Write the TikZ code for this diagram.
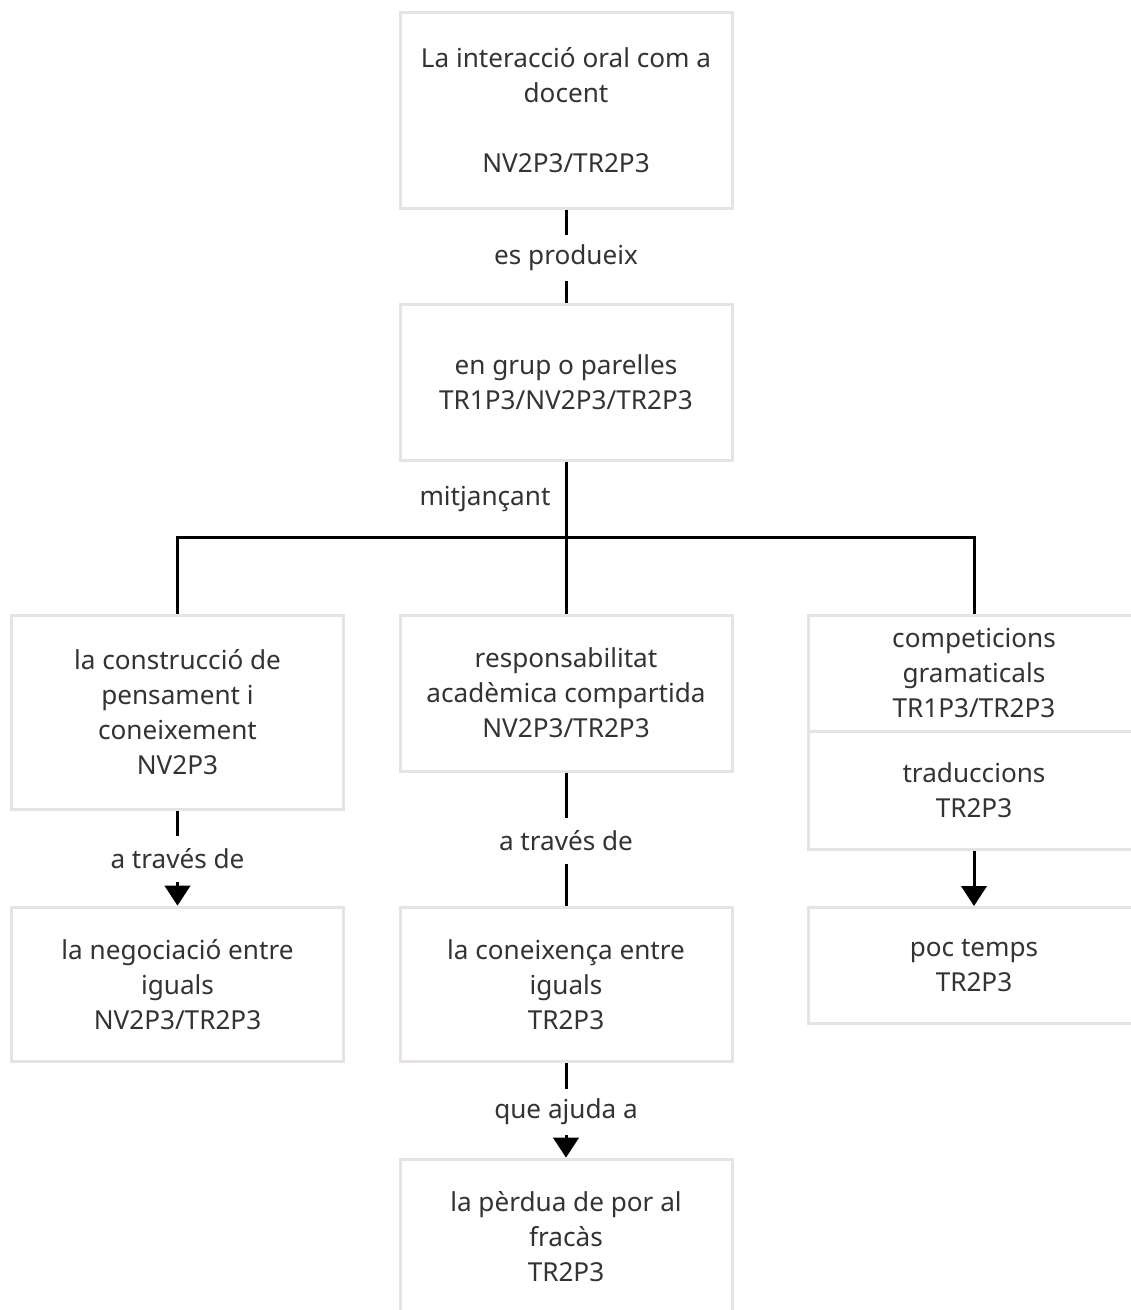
\documentclass[tikz,border=0pt]{standalone}
\usepackage{fontspec}
\setmainfont{Noto Sans}
\usetikzlibrary{arrows.meta,positioning}
\definecolor{boxline}{HTML}{E6E2E6}
\definecolor{ink}{HTML}{333333}
\tikzset{
  textfont/.style={font=\fontsize{19.6pt}{26.25pt}\selectfont},
  concept/.style={draw=boxline, line width=2.25pt, fill=white, align=center,
    text=ink, minimum width=249pt, inner sep=0pt, textfont},
  linkword/.style={fill=white, text=ink, inner sep=0pt, minimum height=34pt,
    textfont},
  link/.style={draw=black, line width=2.25pt},
  linkarrow/.style={link, -{Triangle[width=19pt,length=15pt]}},
}
\begin{document}
\begin{tikzpicture}[x=0.75pt, y=-0.75pt]
\useasboundingbox (0,0) rectangle (1131,1310);
\clip (0,0) rectangle (1131,1310);

% concept boxes
\node[concept, minimum height=147pt] (top) at (566,110)
  {La interacció oral com a\\docent\\[26.25pt]NV2P3/TR2P3};
\node[concept, minimum height=117pt] (grup) at (566,382)
  {en grup o parelles\\TR1P3/NV2P3/TR2P3};
\node[concept, minimum height=146pt] (cons) at (177.5,712.5)
  {la construcció de\\pensament i\\coneixement\\NV2P3};
\node[concept, minimum height=117pt] (resp) at (566,693)
  {responsabilitat\\acadèmica compartida\\NV2P3/TR2P3};
\node[concept, minimum height=87pt] (comp) at (974,673)
  {competicions\\gramaticals\\TR1P3/TR2P3};
\node[concept, minimum height=88.5pt] (trad) at (974,790)
  {traduccions\\TR2P3};
\node[concept, minimum height=87pt] (poc) at (974,965.5)
  {poc temps\\TR2P3};
\node[concept, minimum height=116pt] (nego) at (177.5,984.5)
  {la negociació entre\\iguals\\NV2P3/TR2P3};
\node[concept, minimum height=116pt] (conei) at (566,984.5)
  {la coneixença entre\\iguals\\TR2P3};
\node[concept, minimum height=116pt] (perd) at (566,1236.5)
  {la pèrdua de por al\\fracàs\\TR2P3};

% connectors with linking words
\draw[link] (top.south) -- (grup.north);
\node[linkword] at (566,258) {es produeix};

\coordinate (fork) at (566,537);
\draw[link] (grup.south) -- (resp.north);
\draw[link] (cons.north) |- (fork) -| (comp.north);
\node[text=ink, textfont] at (485,499) {mitjançant};

\draw[linkarrow] (cons.south) -- (nego.north);
\node[linkword] at (177.5,859) {a través de};

\draw[link] (resp.south) -- (conei.north);
\node[linkword] at (566,841) {a través de};

\draw[linkarrow] (trad.south) -- (poc.north);

\draw[linkarrow] (conei.south) -- (perd.north);
\node[linkword] at (566,1112) {que ajuda a};
\end{tikzpicture}
\end{document}
